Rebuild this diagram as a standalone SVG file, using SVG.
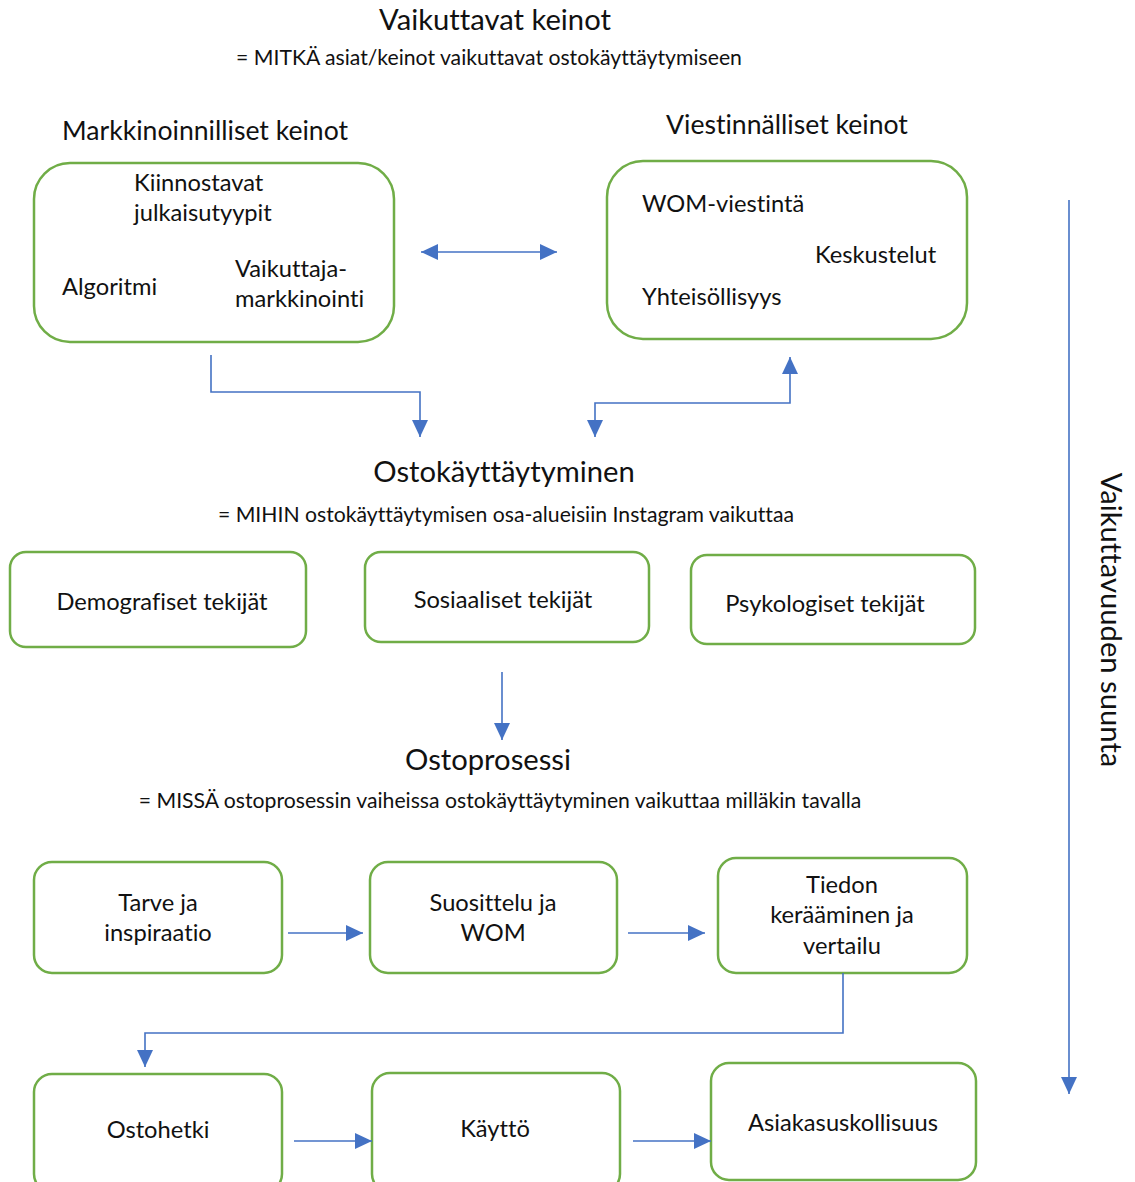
<svg xmlns="http://www.w3.org/2000/svg" width="1135" height="1182" viewBox="0 0 1135 1182">
  <style>
    text { font-family: Lato, "Liberation Sans", sans-serif; fill: #111; font-variant-ligatures: none; font-feature-settings: "liga" 0; }
    .h { font-size: 29.2px; }
    .h2 { font-size: 26.6px; }
    .sub { font-size: 21.2px; }
    .t { font-size: 23.7px; }
    .c { text-anchor: middle; }
    .box { fill: #fff; stroke: #70AD47; stroke-width: 2.5; }
    .ln { fill: none; stroke: #4472C4; stroke-width: 1.6; }
  </style>
  <defs>
    <marker id="ah" markerUnits="userSpaceOnUse" markerWidth="18" markerHeight="16" refX="17" refY="8" orient="auto-start-reverse">
      <path d="M0,0 L17,8 L0,16 Z" fill="#4472C4"/>
    </marker>
  </defs>
  <rect width="1135" height="1182" fill="#fff"/>

  <!-- headings -->
  <g id="headings">
    <text class="h c" x="495" y="30">Vaikuttavat keinot</text>
    <text class="sub c" x="489" y="65">= MITKÄ asiat/keinot vaikuttavat ostokäyttäytymiseen</text>
    <text class="h2" x="62" y="140">Markkinoinnilliset keinot</text>
    <text class="h2" x="666" y="134">Viestinnälliset keinot</text>
    <text class="h c" x="504" y="482">Ostokäyttäytyminen</text>
    <text class="sub c" x="506" y="522">= MIHIN ostokäyttäytymisen osa-alueisiin Instagram vaikuttaa</text>
    <text class="h c" x="488" y="770">Ostoprosessi</text>
    <text class="sub c" x="500" y="808">= MISSÄ ostoprosessin vaiheissa ostokäyttäytyminen vaikuttaa milläkin tavalla</text>
  </g>

  <!-- marketing means -->
  <g id="markkinoinnilliset">
    <rect class="box" x="34" y="163" width="360" height="179" rx="36"/>
    <text class="t" x="134" y="191">Kiinnostavat</text>
    <text class="t" x="134" y="221">julkaisutyypit</text>
    <text class="t" x="62" y="295">Algoritmi</text>
    <text class="t" x="235" y="277">Vaikuttaja-</text>
    <text class="t" x="235" y="307">markkinointi</text>
  </g>

  <!-- communication means -->
  <g id="viestinnalliset">
    <rect class="box" x="607" y="161" width="360" height="178" rx="36"/>
    <text class="t" x="642" y="212">WOM-viestintä</text>
    <text class="t" x="815" y="263">Keskustelut</text>
    <text class="t" x="642" y="305">Yhteisöllisyys</text>
  </g>

  <!-- buying behaviour factors -->
  <g id="demografiset">
    <rect class="box" x="10" y="552" width="296" height="95" rx="16"/>
    <text class="t c" x="162" y="610">Demografiset tekijät</text>
  </g>
  <g id="sosiaaliset">
    <rect class="box" x="365" y="552" width="284" height="90" rx="16"/>
    <text class="t c" x="503" y="608">Sosiaaliset tekijät</text>
  </g>
  <g id="psykologiset">
    <rect class="box" x="691" y="555" width="284" height="89" rx="16"/>
    <text class="t c" x="825" y="612">Psykologiset tekijät</text>
  </g>

  <!-- buying process stages -->
  <g id="tarve">
    <rect class="box" x="34" y="862" width="248" height="111" rx="18"/>
    <text class="t c" x="158" y="911">Tarve ja</text>
    <text class="t c" x="158" y="941">inspiraatio</text>
  </g>
  <g id="suosittelu">
    <rect class="box" x="370" y="862" width="247" height="111" rx="18"/>
    <text class="t c" x="493" y="911">Suosittelu ja</text>
    <text class="t c" x="493" y="941">WOM</text>
  </g>
  <g id="tiedon">
    <rect class="box" x="718" y="858" width="249" height="115" rx="18"/>
    <text class="t c" x="842" y="893">Tiedon</text>
    <text class="t c" x="842" y="923">kerääminen ja</text>
    <text class="t c" x="842" y="954">vertailu</text>
  </g>
  <g id="ostohetki">
    <rect class="box" x="34" y="1074" width="248" height="118" rx="18"/>
    <text class="t c" x="158" y="1138">Ostohetki</text>
  </g>
  <g id="kaytto">
    <rect class="box" x="372" y="1073" width="248" height="119" rx="18"/>
    <text class="t c" x="495" y="1137">Käyttö</text>
  </g>
  <g id="asiakasuskollisuus">
    <rect class="box" x="711" y="1063" width="265" height="117" rx="18"/>
    <text class="t c" x="843" y="1131">Asiakasuskollisuus</text>
  </g>

  <!-- direction of influence -->
  <g id="suunta">
    <text class="h c" transform="translate(1101,620) rotate(90)">Vaikuttavuuden suunta</text>
  </g>

  <!-- connectors -->
  <g id="connectors">
    <line class="ln" x1="421" y1="252" x2="557" y2="252" marker-start="url(#ah)" marker-end="url(#ah)"/>
    <polyline class="ln" points="211,355 211,392 420,392 420,437" marker-end="url(#ah)"/>
    <polyline class="ln" points="595,437 595,403 790,403 790,357" marker-start="url(#ah)" marker-end="url(#ah)"/>
    <line class="ln" x1="502" y1="672" x2="502" y2="740" marker-end="url(#ah)"/>
    <line class="ln" x1="288" y1="933" x2="363" y2="933" marker-end="url(#ah)"/>
    <line class="ln" x1="628" y1="933" x2="705" y2="933" marker-end="url(#ah)"/>
    <polyline class="ln" points="843,973 843,1033 145,1033 145,1067" marker-end="url(#ah)"/>
    <line class="ln" x1="294" y1="1141" x2="372" y2="1141" marker-end="url(#ah)"/>
    <line class="ln" x1="633" y1="1141" x2="711" y2="1141" marker-end="url(#ah)"/>
    <line class="ln" x1="1069" y1="200" x2="1069" y2="1094" marker-end="url(#ah)"/>
  </g>
</svg>
